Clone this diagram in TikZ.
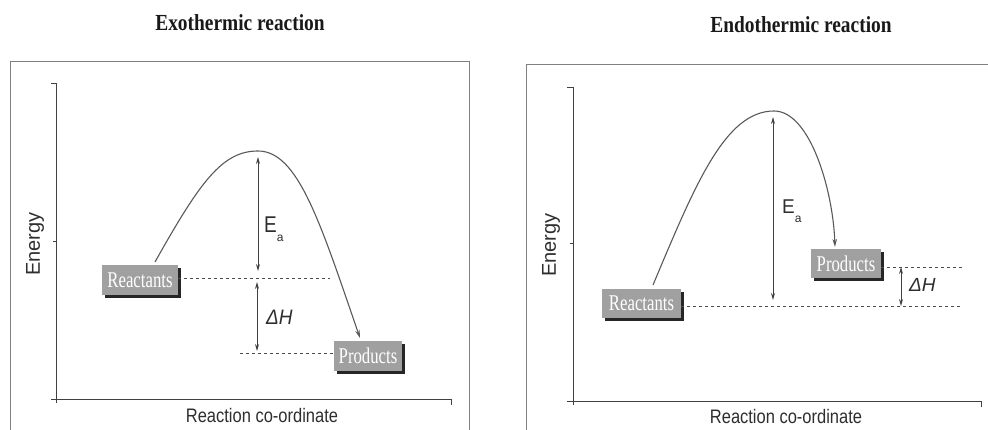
\documentclass[tikz,border=0pt]{standalone}
\usepackage{fontspec}
\usepackage{graphicx}
\setmainfont{Liberation Serif}
\setsansfont{Liberation Sans}
\usetikzlibrary{arrows.meta,shadows}
\definecolor{boxgray}{HTML}{A0A0A0}
\definecolor{ink}{HTML}{2E2E2E}
\tikzset{
  framed/.style={draw=black!50, line width=0.9pt},
  axis/.style={draw=black!75, line width=1pt},
  curve/.style={draw=black!65, line width=1.1pt, -{Stealth[length=8pt,width=4.5pt]}},
  dim/.style={draw=black!75, line width=0.9pt, {Stealth[length=7pt,width=4pt]}-{Stealth[length=7pt,width=4pt]}},
  lvl/.style={draw=black!70, line width=0.9pt, dash pattern=on 3pt off 3pt},
  levelbox/.style={fill=boxgray, text=white, inner sep=0pt, minimum height=30pt,
    font=\fontsize{18}{18}\selectfont,
    general shadow={fill=black!85, shadow xshift=3pt, shadow yshift=-3pt}},
  titletext/.style={font=\bfseries\fontsize{20}{20}\selectfont, text=black!90},
  axlabel/.style={font=\sffamily\fontsize{17}{17}\selectfont, text=ink},
  enlabel/.style={font=\sffamily\fontsize{20}{20}\selectfont, text=ink},
  qty/.style={font=\sffamily\fontsize{19}{19}\selectfont, text=ink, inner sep=0pt}
}
\newcommand{\stretchy}[1]{\scalebox{0.97}[1.15]{#1}}
\newcommand{\boxtext}[1]{\scalebox{0.93}[1.25]{#1}}
\begin{document}
\begin{tikzpicture}[x=1pt,y=-1pt]
\useasboundingbox (0,0) rectangle (988,430);
\clip (0,0) rectangle (988,430);

% ---------------- Left: Exothermic ----------------
\node[titletext] (t1) at (240,23) {\stretchy{Exothermic reaction}};
\draw[framed] (10,432) -- (10,61) -- (469,61) -- (469,432);
\draw[axis] (51,84) -- (56,84) -- (56,399) -- (451,399) -- (451,405);
\draw[axis] (51,399) -- (56,399) -- (56,403);
\draw[axis] (53,242) -- (56,242);
\node[enlabel, rotate=90] (e1) at (35,244) {Energy};
\node[axlabel] (x1) at (262,416) {\stretchy{Reaction co-ordinate}};

\node[levelbox, minimum width=76pt] (r1) at (140,280) {\boxtext{Reactants}};
\node[levelbox, minimum width=68pt] (p1) at (368,356) {\boxtext{Products}};

\coordinate (s1) at (155,262);
\coordinate (pk1) at (258,151);
\coordinate (en1) at (360,338);
\draw[curve] (s1) .. controls (200,182) and (222,151) .. (pk1)
  .. controls (298,151) and (320,222) .. (en1);

\coordinate (rl1) at (330,278);
\coordinate (pl1) at (240,353);
\draw[lvl] (r1.east |- rl1) -- (rl1);
\draw[lvl] (pl1) -- (p1.west |- pl1);

\coordinate (ea1t) at (258,157);
\coordinate (ea1b) at (258,271);
\coordinate (dh1t) at (257,282);
\coordinate (dh1b) at (257,351);
\draw[dim] (ea1t) -- (ea1b);
\draw[dim] (dh1t) -- (dh1b);
\node[qty, anchor=base west] (ea1) at (264,233) {\scalebox{1}[1.2]{E}\raisebox{-9pt}{\fontsize{12}{12}\selectfont a}};
\node[qty, anchor=base west] (dh1) at (266,324) {\scalebox{1}[1.1]{\textit{ΔH}}};

% ---------------- Right: Endothermic ----------------
\node[titletext] (t2) at (801,25) {\stretchy{Endothermic reaction}};
\draw[framed] (526,432) -- (526,64) -- (990,64);
\draw[axis] (567,88) -- (573,88) -- (573,401) -- (981,401) -- (981,407);
\draw[axis] (567,401) -- (573,401) -- (573,405);
\draw[axis] (570,244) -- (573,244);
\node[enlabel, rotate=90] (e2) at (551,245) {Energy};
\node[axlabel] (x2) at (786,417) {\stretchy{Reaction co-ordinate}};

\node[levelbox, minimum width=79pt, minimum height=29pt] (r2) at (641.5,303.5) {\boxtext{Reactants}};
\node[levelbox, minimum width=70pt, minimum height=29pt] (p2) at (846,263.5) {\boxtext{Products}};

\coordinate (s2) at (653,285);
\coordinate (pk2) at (774,111);
\coordinate (en2) at (835,247);
\draw[curve] (s2) .. controls (695,185) and (725,111) .. (pk2)
  .. controls (810,111) and (833,190) .. (en2);

\coordinate (rl2) at (962,306);
\coordinate (pl2) at (962,267);
\draw[lvl] (r2.east |- rl2) -- (rl2);
\draw[lvl] (p2.east |- pl2) -- (pl2);

\coordinate (ea2t) at (773,117);
\coordinate (ea2b) at (773,300);
\coordinate (dh2t) at (901,267);
\coordinate (dh2b) at (901,306);
\draw[dim] (ea2t) -- (ea2b);
\draw[dim] (dh2t) -- (dh2b);
\node[qty, anchor=base west] (ea2) at (782,214) {\scalebox{1}[1.05]{E}\raisebox{-9pt}{\fontsize{12}{12}\selectfont a}};
\node[qty, anchor=base west] (dh2) at (909,292) {\textit{ΔH}};
\end{tikzpicture}
\end{document}
